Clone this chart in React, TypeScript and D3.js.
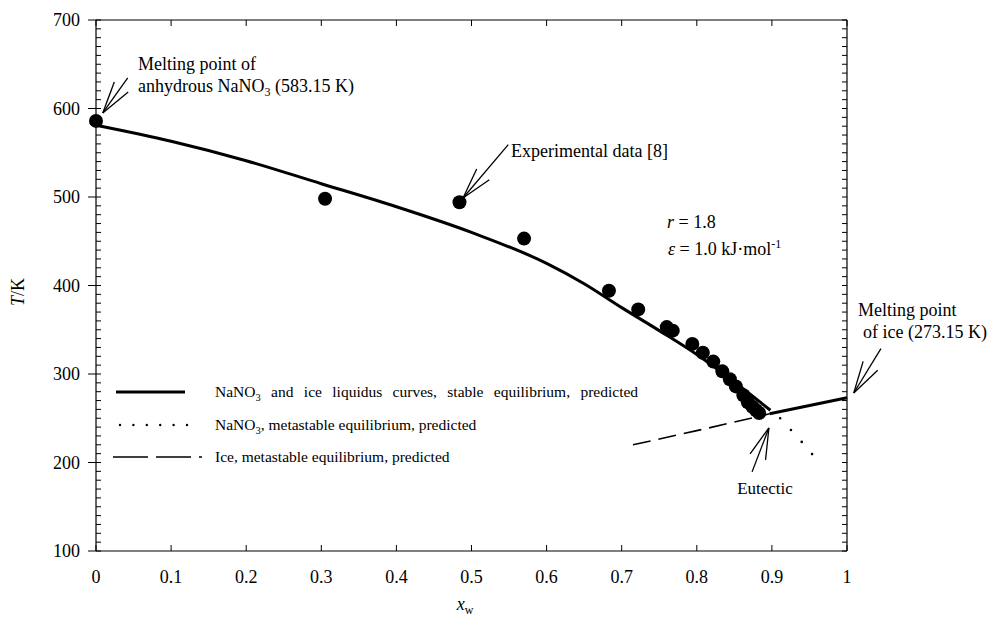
import React from 'react';
import * as d3 from 'd3';

// ---------- data ----------
const xTickValues = [0, 0.1, 0.2, 0.3, 0.4, 0.5, 0.6, 0.7, 0.8, 0.9, 1];
const xTickLabels = ['0', '0.1', '0.2', '0.3', '0.4', '0.5', '0.6', '0.7', '0.8', '0.9', '1'];
const yTickValues = [100, 200, 300, 400, 500, 600, 700];

// experimental data [8]
const expX = [0, 0.305, 0.484, 0.57, 0.683, 0.722, 0.76, 0.768, 0.794, 0.808, 0.822, 0.834, 0.844, 0.852, 0.862, 0.868, 0.874, 0.879, 0.883];
const expT = [586, 498, 494, 453, 394, 373, 353, 349, 334, 324, 314, 303, 294, 286, 276, 268, 263, 259, 256];

// NaNO3 liquidus, stable (predicted)
const nanoX = [0, 0.1, 0.2, 0.3, 0.4, 0.5, 0.6, 0.65, 0.7, 0.75, 0.8, 0.85, 0.898];
const nanoT = [581, 563, 541, 515, 489, 460, 425, 402, 375, 349, 322, 291, 259];

// ice liquidus, stable (predicted)
const iceX = [0.897, 1];
const iceT = [255, 273.15];

// ice, metastable (predicted)
const iceMetaX = [0.715, 0.8, 0.897];
const iceMetaT = [220, 236, 255];

// NaNO3, metastable (predicted)
const nanoMetaX = [0.911, 0.925, 0.94, 0.954];
const nanoMetaT = [250, 237, 223, 209];

// ---------- layout ----------
const W = 991;
const H = 621;
const FONT = "'Liberation Serif', 'Times New Roman', serif";

const xScale = d3.scaleLinear().domain([0, 1]).range([96, 847]);
const yScale = d3.scaleLinear().domain([100, 700]).range([551, 20]);

const line = d3
  .line<[number, number]>()
  .x((d) => xScale(d[0]))
  .y((d) => yScale(d[1]));

const smooth = d3
  .line<[number, number]>()
  .x((d) => xScale(d[0]))
  .y((d) => yScale(d[1]))
  .curve(d3.curveMonotoneX);

const zip = (a: number[], b: number[]): [number, number][] => a.map((v, i) => [v, b[i]]);

function Arrow({ tip, angle, shaft, head }: { tip: [number, number]; angle: number; shaft: number; head: number }) {
  const tx = xScale(tip[0]);
  const ty = yScale(tip[1]);
  const r = (a: number) => (a * Math.PI) / 180;
  const p = (a: number, l: number) => [tx + l * Math.cos(r(a)), ty + l * Math.sin(r(a))];
  const s = p(angle, shaft);
  const h1 = p(angle - 15, head);
  const h2 = p(angle + 15, head);
  return (
    <g stroke="#000" strokeWidth={1.3} fill="none">
      <line x1={tx} y1={ty} x2={s[0]} y2={s[1]} />
      <line x1={tx} y1={ty} x2={h1[0]} y2={h1[1]} />
      <line x1={tx} y1={ty} x2={h2[0]} y2={h2[1]} />
    </g>
  );
}

export default function App() {
  const x0 = xScale(0);
  const x1 = xScale(1);
  const yTop = yScale(700);
  const yBot = yScale(100);
  const minorY = d3.range(100, 701, 10);

  return (
    <svg
      width={W}
      height={H}
      viewBox={`0 0 ${W} ${H}`}
      style={{ position: 'absolute', left: 0, top: 0, background: '#fff' }}
      fontFamily={FONT}
    >
      <rect x={0} y={0} width={W} height={H} fill="#fff" />

      {/* frame */}
      <g stroke="#000" strokeWidth={1.2} fill="none">
        <line x1={x0} y1={yTop} x2={x1} y2={yTop} />
        <line x1={x0} y1={yBot} x2={x1} y2={yBot} />
        <line x1={x0} y1={yTop} x2={x0} y2={yBot} />
        <line x1={x1} y1={yTop} x2={x1} y2={yBot} />
      </g>

      {/* ticks */}
      <g stroke="#000" strokeWidth={1}>
        {minorY.map((v) => (
          <g key={'my' + v}>
            <line x1={x0} x2={x0 + 5} y1={yScale(v)} y2={yScale(v)} />
            <line x1={x1} x2={x1 - 5} y1={yScale(v)} y2={yScale(v)} />
          </g>
        ))}
        {yTickValues.map((v) => (
          <line key={'Y' + v} x1={x0 - 8} x2={x0} y1={yScale(v)} y2={yScale(v)} />
        ))}
        {xTickValues.map((v) => (
          <g key={'xt' + v}>
            <line x1={xScale(v)} x2={xScale(v)} y1={yBot} y2={yBot - 6} />
            <line x1={xScale(v)} x2={xScale(v)} y1={yTop} y2={yTop + 6} />
          </g>
        ))}
      </g>

      {/* tick labels */}
      <g fontSize={18} fill="#000">
        {yTickValues.map((v) => (
          <text key={'yl' + v} x={80} y={yScale(v)} dy="0.35em" textAnchor="end">
            {v}
          </text>
        ))}
        {xTickValues.map((v, i) => (
          <text key={'xl' + v} x={xScale(v)} y={583} textAnchor="middle">
            {xTickLabels[i]}
          </text>
        ))}
      </g>

      {/* axis titles */}
      <text x={465} y={610} fontSize={18} textAnchor="middle">
        <tspan fontStyle="italic">x</tspan>
        <tspan fontSize={12} dy={4}>w</tspan>
      </text>
      <text transform="translate(24, 292) rotate(-90)" fontSize={18} textAnchor="middle">
        <tspan fontStyle="italic">T</tspan>/K
      </text>

      {/* curves */}
      <path d={smooth(zip(nanoX, nanoT)) || ''} fill="none" stroke="#000" strokeWidth={3} />
      <path d={line(zip(iceX, iceT)) || ''} fill="none" stroke="#000" strokeWidth={3} />
      <path d={smooth(zip(iceMetaX, iceMetaT)) || ''} fill="none" stroke="#000" strokeWidth={1.6} strokeDasharray="18,8" />
      <path
        d={smooth(zip(nanoMetaX, nanoMetaT)) || ''}
        fill="none"
        stroke="#000"
        strokeWidth={2.6}
        strokeLinecap="round"
        strokeDasharray="0,16"
      />

      {/* experimental points */}
      {expX.map((x, i) => (
        <circle key={'p' + i} cx={xScale(x)} cy={yScale(expT[i])} r={7} fill="#000" />
      ))}

      {/* annotations */}
      <Arrow tip={[0.009, 595]} angle={-54.5} shaft={43} head={33} />
      <text x={138} y={70} fontSize={18}>Melting point of</text>
      <text x={138} y={92} fontSize={18}>
        anhydrous NaNO<tspan fontSize={12} dy={4}>3</tspan>
        <tspan dy={-4}> (583.15 K)</tspan>
      </text>

      <Arrow tip={[0.4887, 498.9]} angle={-49.7} shaft={70} head={32} />
      <text x={511} y={157} fontSize={18}>Experimental data [8]</text>

      <text x={667} y={228} fontSize={18}>
        <tspan fontStyle="italic">r</tspan>
        <tspan>{'  = 1.8'}</tspan>
      </text>
      <text x={668} y={255} fontSize={18}>
        <tspan fontStyle="italic">ε</tspan>
        <tspan>{' = 1.0 kJ·mol'}</tspan>
        <tspan fontSize={12} dy={-7}>-1</tspan>
      </text>

      <Arrow tip={[0.896, 239]} angle={111} shaft={47} head={32} />
      <text x={765} y={494} fontSize={17} textAnchor="middle">Eutectic</text>

      <Arrow tip={[1.009, 278.5]} angle={-58.5} shaft={52} head={33} />
      <text x={858} y={316} fontSize={18}>Melting point</text>
      <text x={863} y={338} fontSize={18}>of ice (273.15 K)</text>

      {/* legend */}
      <g fontSize={15.5}>
        <line x1={116} x2={185} y1={392} y2={392} stroke="#000" strokeWidth={3} />
        <text x={215} y={397}>
          NaNO<tspan fontSize={10.5} dy={4}>3</tspan>
          <tspan dy={-4} wordSpacing={6.5}>{'  and  ice liquidus curves, stable equilibrium, predicted'}</tspan>
        </text>
        <line
          x1={120}
          x2={188}
          y1={425}
          y2={425}
          stroke="#000"
          strokeWidth={2.4}
          strokeLinecap="round"
          strokeDasharray="0,13.4"
        />
        <text x={215} y={430}>
          NaNO<tspan fontSize={10.5} dy={4}>3</tspan>
          <tspan dy={-4}>, metastable equilibrium, predicted</tspan>
        </text>
        <line x1={113} x2={202} y1={457} y2={457} stroke="#000" strokeWidth={1.6} strokeDasharray="35,8" />
        <text x={215} y={462}>Ice, metastable equilibrium, predicted</text>
      </g>
    </svg>
  );
}
